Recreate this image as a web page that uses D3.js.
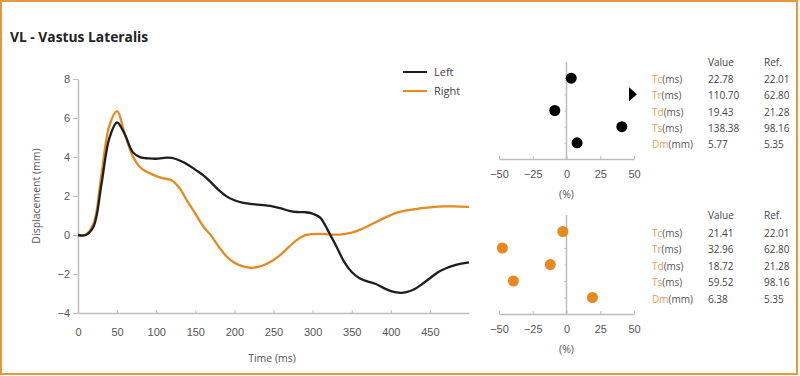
<!DOCTYPE html>
<html>
<head>
<meta charset="utf-8">
<script src="https://cdn.jsdelivr.net/npm/d3@7"></script>
<style>
  body { margin: 0; background: #fff; }
  svg { display: block; font-family: "Open Sans", "Noto Sans", sans-serif; }
  .axis path, .axis line { stroke: #bdbdbd; }
  .axis text { fill: #555; font-size: 11px; }
</style>
</head>
<body>
<div id="chart"></div>
<script>
var width = 800;
var height = 376;

// displacement curves
var times = [0,10,20,30,40,50,60,70,80,90,100,110,120,130,140,150,160,170,180,190,200,
             210,220,230,240,250,260,270,280,290,300,310,320,330,340,350,360,370,380,390,400,
             410,420,430,440,450,460,470,480,490,500];
var leftDisp = [0,0,0.45,2.6,4.95,5.77,5.15,4.25,3.98,3.93,3.91,3.96,3.95,3.82,3.62,3.35,3.07,2.7,2.3,1.98,1.78,
                1.66,1.6,1.56,1.52,1.46,1.36,1.24,1.18,1.17,1.1,0.88,0.2,-0.55,-1.35,-1.9,-2.22,-2.38,-2.5,-2.7,-2.88,
                -2.96,-2.93,-2.78,-2.52,-2.22,-1.92,-1.72,-1.57,-1.47,-1.4];
var rightDisp = [0,0.02,0.6,3.1,5.6,6.35,5.15,4.05,3.45,3.2,3.02,2.9,2.8,2.4,1.72,1.1,0.45,-0.02,-0.6,-1.1,-1.42,
                 -1.6,-1.68,-1.64,-1.5,-1.28,-0.98,-0.6,-0.25,-0.02,0.05,0.06,0.03,0.02,0.05,0.12,0.26,0.44,0.64,0.84,1.02,
                 1.17,1.26,1.32,1.38,1.42,1.46,1.47,1.47,1.46,1.44];
var xTicks = [0,50,100,150,200,250,300,350,400,450];
var yTicks = [-4,-2,0,2,4,6,8];

// parameters table
var params = ["Tc","Tr","Td","Ts","Dm"];
var units = ["ms","ms","ms","ms","mm"];
var leftValues = [22.78,110.70,19.43,138.38,5.77];
var rightValues = [21.41,32.96,18.72,59.52,6.38];
var refValues = [22.01,62.80,21.28,98.16,5.35];
var pctTicks = [-50,-25,0,25,50];

var black = "#1e1e1e";
var orange = "#e8891f";
var labelOrange = "#e99a55";

var svg = d3.select("#chart").append("svg")
    .attr("width", width)
    .attr("height", height);

// frame
svg.append("rect")
    .attr("x", 1).attr("y", 1)
    .attr("width", 796).attr("height", 373)
    .attr("fill", "none")
    .attr("stroke", "#e39a3e")
    .attr("stroke-width", 2);

svg.append("text")
    .attr("x", 10).attr("y", 42)
    .attr("font-size", 13.8)
    .attr("font-weight", "bold")
    .attr("fill", "#222")
    .text("VL - Vastus Lateralis");

// ---- main line chart ----
var x = d3.scaleLinear().domain([0, 500]).range([78, 469]);
var y = d3.scaleLinear().domain([-4, 8]).range([313, 79]);

svg.append("g")
    .attr("class", "axis")
    .attr("transform", "translate(0,313)")
    .call(d3.axisBottom(x).tickValues(xTicks).tickSize(-3).tickPadding(15).tickSizeOuter(0));

svg.append("g")
    .attr("class", "axis")
    .attr("transform", "translate(78,0)")
    .call(d3.axisLeft(y).tickValues(yTicks).tickSize(5).tickPadding(3).tickSizeOuter(0));

svg.selectAll(".axis .domain").attr("stroke-width", 1.5);

svg.append("text")
    .attr("transform", "translate(40,196) rotate(-90)")
    .attr("text-anchor", "middle")
    .attr("font-size", 10.5)
    .attr("fill", "#555")
    .text("Displacement (mm)");

svg.append("text")
    .attr("x", 272).attr("y", 362)
    .attr("text-anchor", "middle")
    .attr("font-size", 10.5)
    .attr("fill", "#555")
    .text("Time (ms)");

var line = d3.line()
    .x(function(d, i){ return x(times[i]); })
    .y(function(d){ return y(d); })
    .curve(d3.curveCatmullRom.alpha(0.5));

svg.append("path")
    .datum(rightDisp)
    .attr("d", line)
    .attr("fill", "none")
    .attr("stroke", orange)
    .attr("stroke-width", 2.3);

svg.append("path")
    .datum(leftDisp)
    .attr("d", line)
    .attr("fill", "none")
    .attr("stroke", black)
    .attr("stroke-width", 2.3);

// legend
var legend = [{name: "Left", color: black}, {name: "Right", color: orange}];
var lg = svg.selectAll(".legend").data(legend).enter().append("g")
    .attr("transform", function(d, i){ return "translate(403," + (72 + i * 19) + ")"; });
lg.append("line").attr("x1", 0).attr("x2", 24)
    .attr("stroke", function(d){ return d.color; }).attr("stroke-width", 2);
lg.append("text").attr("x", 31).attr("dy", "0.35em")
    .attr("font-size", 11).attr("fill", "#444")
    .text(function(d){ return d.name; });

// ---- deviation scatter + table ----
var px = d3.scaleLinear().domain([-50, 50]).range([499, 634]);
var fmt = d3.format(".2f");

function panel(values, color, top, bottom) {
    var py = d3.scalePoint().domain(params).range([top, bottom]).padding(1);
    var g = svg.append("g");

    g.append("g")
        .attr("class", "axis")
        .attr("transform", "translate(0," + bottom + ")")
        .call(d3.axisBottom(px).tickValues(pctTicks).tickSize(-3).tickPadding(11).tickSizeOuter(0));

    g.append("g")
        .attr("class", "axis")
        .attr("transform", "translate(" + px(0) + ",0)")
        .call(d3.axisLeft(py).tickSize(2).tickFormat("").tickSizeOuter(0))
        .select(".domain").attr("d", "M0," + top + "V" + bottom);

    g.selectAll(".axis .domain").attr("stroke-width", 1.5);

    g.append("text")
        .attr("x", px(0)).attr("y", bottom + 39)
        .attr("text-anchor", "middle")
        .attr("font-size", 10.5).attr("fill", "#555")
        .text("(%)");

    var pts = params.map(function(p, i){
        return {p: p, pct: (values[i] - refValues[i]) / refValues[i] * 100};
    });

    g.selectAll("circle").data(pts.filter(function(d){ return Math.abs(d.pct) <= 50; }))
        .enter().append("circle")
        .attr("cx", function(d){ return px(d.pct); })
        .attr("cy", function(d){ return py(d.p); })
        .attr("r", 5.5)
        .attr("fill", color);

    // off-scale values shown as arrows at the edge
    g.selectAll(".over").data(pts.filter(function(d){ return Math.abs(d.pct) > 50; }))
        .enter().append("path")
        .attr("d", function(d){
            var sx = d.pct > 0 ? 1 : -1;
            var cx = px(sx * 50), cy = py(d.p);
            return "M" + (cx - sx * 5) + "," + (cy - 7) + "L" + (cx + sx * 3) + "," + cy + "L" + (cx - sx * 5) + "," + (cy + 7) + "Z";
        })
        .attr("fill", color);

    // table
    var cols = [652, 708, 764];
    g.append("text").attr("x", cols[1]).attr("y", py(params[0]) - 16)
        .attr("dy", "0.35em").attr("font-size", 10).attr("fill", "#444").text("Value");
    g.append("text").attr("x", cols[2]).attr("y", py(params[0]) - 16)
        .attr("dy", "0.35em").attr("font-size", 10).attr("fill", "#444").text("Ref.");

    var rows = g.selectAll(".row").data(params).enter().append("g")
        .attr("transform", function(d){ return "translate(0," + (py(d) + 1.5) + ")"; })
        .attr("font-size", 10);
    var lab = rows.append("text").attr("x", cols[0]).attr("dy", "0.35em");
    lab.append("tspan").attr("fill", labelOrange).text(function(d){ return d; });
    lab.append("tspan").attr("fill", "#555").text(function(d, i){ return "(" + units[i] + ")"; });
    rows.append("text").attr("x", cols[1]).attr("dy", "0.35em").attr("fill", "#444")
        .text(function(d, i){ return fmt(values[i]); });
    rows.append("text").attr("x", cols[2]).attr("dy", "0.35em").attr("fill", "#444")
        .text(function(d, i){ return fmt(refValues[i]); });
}

panel(leftValues, "#000", 62, 159);
panel(rightValues, orange, 215, 314);
</script>
</body>
</html>
